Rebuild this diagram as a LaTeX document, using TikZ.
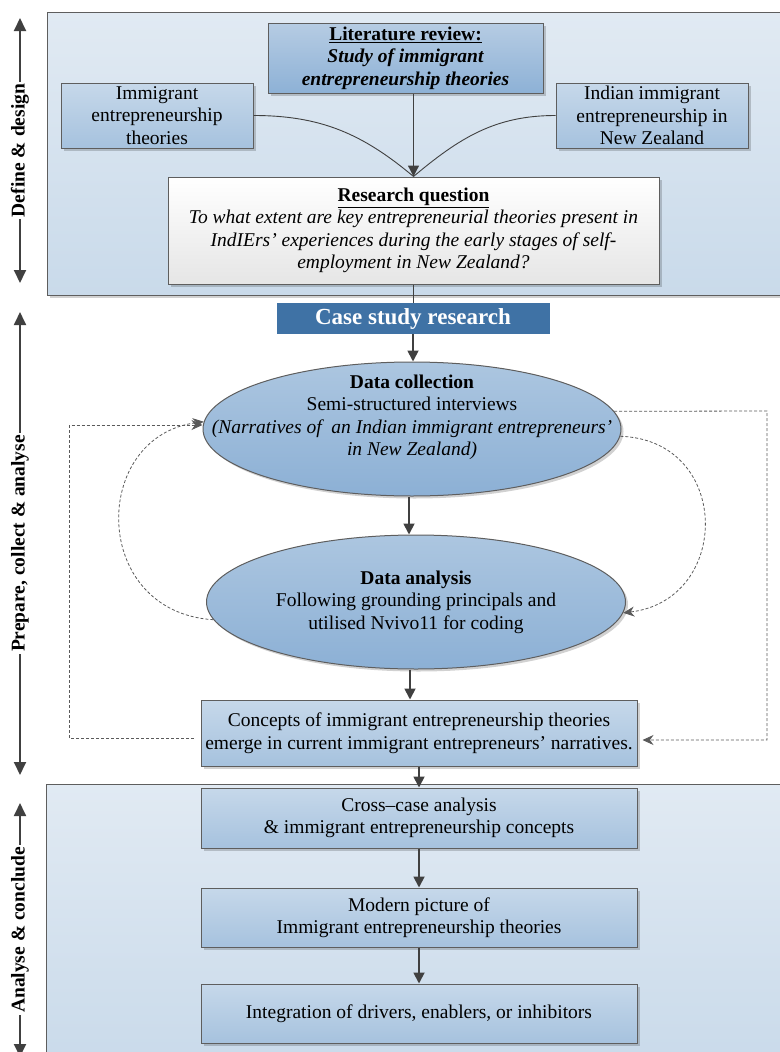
\documentclass[tikz,border=0pt]{standalone}
\usepackage{fontspec}
\setmainfont{Liberation Serif}
\usetikzlibrary{arrows.meta,shapes.geometric,shadows}

\definecolor{panelTop}{HTML}{E1EAF3}
\definecolor{panelBot}{HTML}{C9DAEA}
\definecolor{boxTop}{HTML}{C6D8EA}
\definecolor{boxBot}{HTML}{A6C2DE}
\definecolor{litTop}{HTML}{B6CCE3}
\definecolor{litBot}{HTML}{8DB1D6}
\definecolor{ellTop}{HTML}{ACC6E0}
\definecolor{ellBot}{HTML}{8CB0D5}
\definecolor{caseBlue}{HTML}{3F72A5}
\definecolor{edgeGray}{HTML}{5E5E5E}
\definecolor{arrowGray}{HTML}{404040}
\definecolor{dashGray}{HTML}{5A5A5A}

\newcommand\bodysize{\fontsize{19.5}{22.5}\selectfont}

\tikzset{
  softshadow/.style={drop shadow={shadow xshift=2.5pt, shadow yshift=-2.5pt, fill=black, opacity=0.18}},
  panel/.style={draw=edgeGray, line width=1pt, top color=panelTop, bottom color=panelBot, softshadow},
  basebox/.style={draw=edgeGray, line width=1pt, align=center, inner sep=1pt, font=\bodysize, text=black, softshadow},
  bluebox/.style={basebox, top color=boxTop, bottom color=boxBot},
  litbox/.style={basebox, top color=litTop, bottom color=litBot, font=\bodysize\bfseries},
  qbox/.style={basebox, top color=white, bottom color=black!10},
  casebox/.style={fill=caseBlue, text=white, font=\fontsize{23}{26}\selectfont\bfseries, inner sep=0pt},
  ellbox/.style={ellipse, draw=edgeGray, line width=1pt, top color=ellTop, bottom color=ellBot, inner sep=0pt, softshadow},
  elltext/.style={align=center, font=\bodysize, inner sep=0pt},
  flow/.style={draw=arrowGray, line width=1.8pt, -{Triangle[length=11pt,width=11pt]}},
  thinlink/.style={draw=arrowGray, line width=0.9pt},
  loopback/.style={draw=dashGray, line width=0.8pt, dash pattern=on 3pt off 2pt, -{Stealth[length=11pt,width=10pt]}},
  sidearrow/.style={draw=arrowGray, line width=1.8pt, {Triangle[length=13pt,width=12pt]}-{Triangle[length=13pt,width=12pt]}},
  sidelab/.style={rotate=90, fill=white, inner xsep=2pt, inner ysep=0pt, font=\bodysize\bfseries}
}

\begin{document}
\begin{tikzpicture}[x=1pt,y=-1pt]
\useasboundingbox (0,0) rectangle (779,1052);

% phase panels
\path[panel] (47,12) rectangle (792,295);
\path[panel] (46,784) rectangle (792,1068);

% phase arrows on the left margin
\coordinate (p1t) at (20,18);  \coordinate (p1b) at (20,283);
\coordinate (p2t) at (20,312); \coordinate (p2b) at (20,775);
\coordinate (p3t) at (20,803); \coordinate (p3b) at (20,1057);
\draw[sidearrow] (p1t) -- (p1b);
\draw[sidearrow] (p2t) -- (p2b);
\draw[sidearrow] (p3t) -- (p3b);
\node[sidelab] (lab1) at (20,150.5) {Define \& design};
\node[sidelab] (lab2) at (20,543.5) {Prepare, collect \& analyse};
\node[sidelab] (lab3) at (20,930) {Analyse \& conclude};

% define & design
\node[litbox, minimum width=275pt, minimum height=70pt] (lit) at (405.5,58)
  {\underline{Literature review:}\\ \itshape Study of immigrant\\ \itshape entrepreneurship theories};
\node[bluebox, minimum width=192pt, minimum height=65pt] (imm) at (157,115.5)
  {Immigrant\\ entrepreneurship\\ theories};
\node[bluebox, minimum width=192pt, minimum height=65pt] (ind) at (652,115.5)
  {Indian immigrant\\ entrepreneurship in\\ New Zealand};
\node[qbox, minimum width=491pt, minimum height=107pt] (rq) at (413.5,230.5)
  {\textbf{\underline{Research question}}\\
   \itshape To what extent are key entrepreneurial theories present in\\
   \itshape IndIErs' experiences during the early stages of self-\\
   \itshape employment in New Zealand?};

\draw[thinlink] (imm.east) to[out=0,in=140] (rq.north);
\draw[thinlink] (ind.west) to[out=180,in=40] (rq.north);
\draw[flow, line width=1.3pt] (rq.north |- lit.south) -- (rq.north);

% prepare, collect & analyse
\node[casebox, minimum width=273pt, minimum height=31pt] (cs) at (413,318.5) {Case study research};
\draw[draw=arrowGray, line width=1.8pt] (rq.south) -- (rq.south |- cs.north);

\node[ellbox, minimum width=418pt, minimum height=134pt] (dc) at (412,429) {};
\node[elltext] (dctext) at (412,417.5)
  {\textbf{Data collection}\\ Semi-structured interviews\\
   \itshape (Narratives of~ an Indian immigrant entrepreneurs'\\ \itshape in New Zealand)};
\node[ellbox, minimum width=419pt, minimum height=134pt] (da) at (416,602) {};
\node[elltext] (datext) at (416,602)
  {\textbf{Data analysis}\\ Following grounding principals and\\ utilised Nvivo11 for coding};
\node[bluebox, minimum width=436pt, minimum height=66pt] (con) at (419,733)
  {Concepts of immigrant entrepreneurship theories\\ emerge in current immigrant entrepreneurs' narratives.};

\draw[flow] (cs.south) -- (cs.south |- dc.north);
\draw[flow] ([xshift=-3pt]dc.south) -- ([xshift=-3pt]dc.south |- da.north);
\draw[flow] ([xshift=-6pt]da.south) -- ([xshift=-6pt]da.south |- con.north);

% feedback loops
\draw[loopback] ([xshift=-7pt,yshift=-5pt]con.west) -- (69,738) -- (69,425) -- ([yshift=4pt]dc.west);
\draw[loopback] (dc.5) -- (767,411) -- (767,740) -- ([xshift=5pt,yshift=-7pt]con.east);
\draw[loopback] (da.185) .. controls (90,612) and (90,436) .. (dc.178);
\draw[loopback] (dc.-2) .. controls (732,440) and (732,600) .. (da.-3);

% analyse & conclude
\node[bluebox, minimum width=436pt, minimum height=60pt] (cross) at (419,818)
  {Cross--case analysis\\ \& immigrant entrepreneurship concepts};
\node[bluebox, minimum width=436pt, minimum height=59pt] (modern) at (419,917.5)
  {Modern picture of\\ Immigrant entrepreneurship theories};
\node[bluebox, minimum width=436pt, minimum height=59pt] (integ) at (419,1013.5)
  {Integration of drivers, enablers, or inhibitors};

\draw[flow] (con.south) -- (cross.north);
\draw[flow] (cross.south) -- (modern.north);
\draw[flow] (modern.south) -- (integ.north);
\end{tikzpicture}
\end{document}
